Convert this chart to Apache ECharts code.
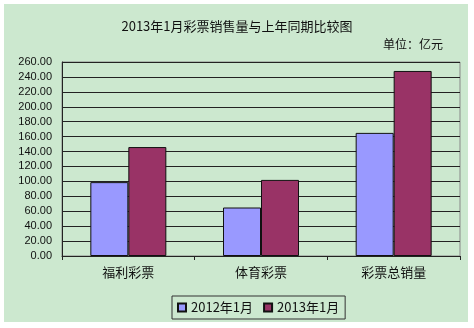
<!DOCTYPE html>
<html><head><meta charset="utf-8">
<script src="https://cdn.jsdelivr.net/npm/echarts@6/dist/echarts.min.js"></script>
<style>html,body{margin:0;padding:0;background:#fff}#c{width:474px;height:328px}</style>
</head><body><div id="c"></div>
<script>
var categories = ['福利彩票', '体育彩票', '彩票总销量'];
var series2012 = [99, 65, 165];
var series2013 = [146, 102, 248];
var seriesNames = ['2012年1月', '2013年1月'];
var titleText = '2013年1月彩票销售量与上年同期比较图';
var unitText = '单位：亿元';

var chart = echarts.init(document.getElementById('c'));
var font = '"Noto Sans CJK SC", "Liberation Sans", sans-serif';
chart.setOption({
  backgroundColor: '#fff',
  animation: false,
  textStyle: {fontFamily: font},
  graphic: [
    {type: 'rect', z: -10, shape: {x: 4, y: 4, width: 464, height: 318}, style: {fill: '#cce8cf'}},
    {type: 'text', left: 383, top: 38, style: {text: unitText, font: '12px ' + font, fill: '#111'}}
  ],
  title: {
    text: titleText, left: 'center', top: 15,
    textStyle: {fontSize: 13, fontWeight: 'normal', color: '#111', fontFamily: font}
  },
  legend: {
    data: seriesNames, left: 172, top: 296, itemWidth: 8, itemHeight: 8, itemGap: 10,
    borderColor: '#333', borderWidth: 1, padding: [5, 6, 5, 5], borderRadius: 0,
    textStyle: {fontSize: 13, color: '#111', fontFamily: font},
    icon: 'rect'
  },
  grid: {left: 62, right: 14, top: 62, bottom: 72, show: true, borderColor: '#888', borderWidth: 1, backgroundColor: 'transparent'},
  xAxis: {
    type: 'category', data: categories,
    axisLine: {lineStyle: {color: '#222'}},
    axisTick: {show: true, length: 4, lineStyle: {color: '#222'}},
    axisLabel: {fontSize: 13, color: '#111', margin: 10, fontFamily: font}
  },
  yAxis: {
    type: 'value', min: 0, max: 260, interval: 20,
    axisLine: {show: true, lineStyle: {color: '#222'}},
    axisTick: {show: false},
    splitLine: {lineStyle: {color: '#222', width: 1}},
    axisLabel: {fontSize: 11, color: '#111', margin: 10, fontFamily: '"Liberation Sans", Arial, sans-serif',
      formatter: function (v) { return v.toFixed(2); }}
  },
  series: [
    {name: seriesNames[0], type: 'bar', data: series2012, barWidth: 38, barGap: '0%',
      itemStyle: {color: '#9999ff', borderColor: '#111', borderWidth: 1}},
    {name: seriesNames[1], type: 'bar', data: series2013, barWidth: 38,
      itemStyle: {color: '#993366', borderColor: '#111', borderWidth: 1}}
  ]
});
</script></body></html>
